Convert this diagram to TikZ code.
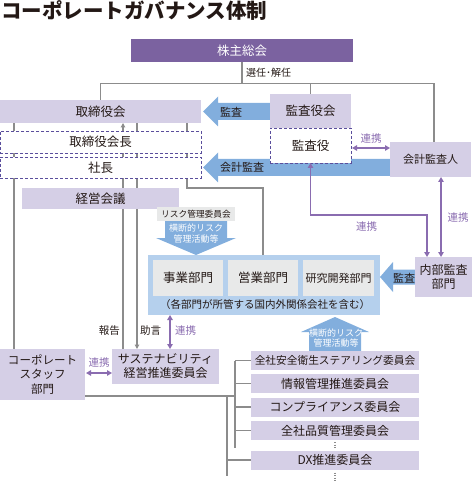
\documentclass[tikz,border=0pt]{standalone}
\usepackage{fontspec}
\setmainfont{Noto Sans CJK JP}
\usetikzlibrary{arrows.meta, positioning, calc, backgrounds}
\definecolor{murasaki}{RGB}{123, 98, 160}
\definecolor{usumura}{RGB}{213, 207, 230}
\definecolor{tensen}{RGB}{90, 78, 156}
\definecolor{aoya}{RGB}{130, 174, 221}
\definecolor{usuao}{RGB}{181, 208, 237}
\definecolor{haiiro}{RGB}{232, 233, 233}
\definecolor{sen}{RGB}{140, 140, 140}
\definecolor{renkei}{RGB}{138, 108, 176}
\definecolor{sumi}{RGB}{35, 24, 21}

\begin{document}
\begin{tikzpicture}[x=1pt, y=-1pt,
    box/.style={rectangle, fill=usumura, inner sep=0pt, outer sep=0pt, align=center, text=sumi, font=\fontsize{12.5}{14}\selectfont},
    dbox/.style={box, fill=white, draw=tensen, line width=0.9pt, dash pattern=on 3pt off 2pt},
    gbox/.style={box, fill=haiiro},
    iinkai/.style={box, minimum width=168pt, minimum height=19pt, font=\fontsize{12}{14}\selectfont},
    link/.style={draw=sen, line width=1.1pt},
    hokokuarrow/.style={link, -{Triangle[length=4.5pt, width=4.5pt]}},
    renkeiarrow/.style={draw=renkei, line width=1.2pt, {Triangle[length=5pt, width=5.5pt]}-{Triangle[length=5pt, width=5.5pt]}},
    fatarrow/.style={fill=aoya},
    lbl/.style={inner sep=1pt, text=sumi, font=\fontsize{10.5}{12}\selectfont},
    rlbl/.style={lbl, text=renkei},
    wlbl/.style={inner sep=0pt, align=center, text=white, font=\fontsize{9}{10.5}\selectfont}
]
\useasboundingbox (0,0) rectangle (472,486);

\node[anchor=west, inner sep=0pt, text=sumi, font=\fontsize{20.5}{24}\selectfont\bfseries] (title) at (1,11) {コーポレートガバナンス体制};

\node[box, fill=murasaki, text=white, minimum width=222pt, minimum height=23pt] (kabunushi) at (242,50.5) {株主総会};
\node[lbl, anchor=west, font=\fontsize{10}{12}\selectfont] (senin) at (245,73) {選任･解任};

\node[box, minimum width=201pt, minimum height=23pt] (torishimari) at (100.5,111.5) {取締役会};
\node[dbox, minimum width=201pt, minimum height=22pt, below=8pt of torishimari] (kaicho) {取締役会長};
\node[dbox, minimum width=201pt, minimum height=21pt, below=4pt of kaicho] (shacho) {社長};
\node[box, minimum width=157pt, minimum height=21pt] (keiei) at (100.5,198.5) {経営会議};

\node[box, minimum width=81pt, minimum height=34pt] (kansayakukai) at (310.5,111) {監査役会};
\node[dbox, minimum width=81pt, minimum height=35pt, below=0pt of kansayakukai] (kansayaku) {監査役};
\node[box, minimum width=81pt, minimum height=35pt, font=\fontsize{11}{13}\selectfont] (kaikei) at (430.5,159.5) {会計監査人};
\node[box, minimum width=57pt, minimum height=40pt, font=\fontsize{12}{14}\selectfont] (naibu) at (443.5,277) {内部監査\\部門};

\node[gbox, minimum width=78pt, minimum height=14pt, font=\fontsize{8.7}{10}\selectfont] (riskiin) at (196,214) {リスク管理委員会};

\node[box, fill=usuao, minimum width=232pt, minimum height=60pt] (bumon) at (264,285) {};
\node[gbox, minimum width=70pt, minimum height=36pt] (jigyo) at (188,278) {事業部門};
\node[gbox, minimum width=70pt, minimum height=36pt, right=5pt of jigyo] (eigyo) {営業部門};
\node[gbox, minimum width=71pt, minimum height=36pt, right=5pt of eigyo, font=\fontsize{11}{13}\selectfont] (kenkyu) {研究開発部門};
\node[lbl, font=\fontsize{10.5}{12}\selectfont] (kanren) at ($(bumon.south)+(1,-10)$) {（各部門が所管する国内外関係会社を含む）};

\node[box, minimum width=107pt, minimum height=35pt, font=\fontsize{12}{14}\selectfont] (sustain) at (165.5,366.5) {サステナビリティ\\経営推進委員会};
\node[box, minimum width=85pt, minimum height=51pt, font=\fontsize{11.5}{14.5}\selectfont] (corp) at (42.5,374.5) {コーポレート\\スタッフ\\部門};

\node[iinkai, font=\fontsize{10.7}{13}\selectfont] (anzen) at (335,360.5) {全社安全衛生ステアリング委員会};
\node[iinkai, below=4pt of anzen] (joho) {情報管理推進委員会};
\node[iinkai, below=4.5pt of joho] (compli) {コンプライアンス委員会};
\node[iinkai, below=4.5pt of compli] (hinshitsu) {全社品質管理委員会};
\node[iinkai, below=10.5pt of hinshitsu] (dx) {DX推進委員会};

\begin{scope}[on background layer]
\draw[link] (kabunushi.south) -- ++(0,21.5) coordinate (bunki);
\draw[link] (torishimari.north) |- (bunki) -| ($(kaikei.north)+(3.5,0)$);
\draw[link] (bunki -| kansayakukai.north) -- (kansayakukai.north);

\draw[link] ($(torishimari.south west)+(14,0)$) -- ($(corp.north west)+(14,0)$);
\coordinate (hokoku) at ($(sustain.north west)+(11,0)$);
\coordinate (jogen) at ($(sustain.north west)+(25,0)$);
\draw[hokokuarrow] (hokoku) -- (hokoku |- torishimari.south);
\draw[hokokuarrow] (jogen |- torishimari.south) -- (jogen);
\coordinate (shiji) at ($(bumon.north west)+(115,0)$);
\draw[link] ($(torishimari.south west)+(187,0)$) |- (keiei.north -| shiji) -- (shiji);

\coordinate (uchi) at ($(anzen.west)+(-16,0)$);
\coordinate (soto) at ($(dx.west)+(-24,0)$);
\draw[link] ($(corp.south east)+(0,-4)$) coordinate (corpout) -- (corpout -| uchi);
\draw[link] (uchi) -- ($(uchi)+(0,87)$);
\draw[link] (corpout -| soto) -- ($(soto)+(0,16)$);
\foreach \n in {anzen, joho, compli, hinshitsu}
  \draw[link] (\n.west) -- (\n.west -| uchi);
\draw[link] (dx.west) -- (soto);
\draw[link, dash pattern=on 1pt off 1.6pt] ($(hinshitsu.south)+(0,2)$) -- ($(dx.north)+(0,-2)$);
\draw[link, dash pattern=on 1pt off 1.6pt] ($(dx.south)+(0,3)$) -- ++(0,10);

\fill[fatarrow] ($(torishimari.east)+(2,0)$) -- ++(15,-15) -- ++(0,6.5) -- ($(kansayakukai.west |- torishimari.east)+(0,-8.5)$) -- ++(0,17) -- ($(torishimari.east)+(17,8.5)$) -- ++(0,6.5) -- cycle;
\fill[fatarrow] ($(shacho.east)+(2,0)$) -- ++(15,-15) -- ++(0,6.5) -- ($(kaikei.west |- shacho.east)+(0,-8.5)$) -- ++(0,17) -- ($(shacho.east)+(17,8.5)$) -- ++(0,6.5) -- cycle;
\fill[fatarrow] (bumon.east |- naibu.west) -- ++(13,-15) -- ++(0,7.5) -- ($(naibu.west)+(0,-7.5)$) -- ++(0,15) -- ($(bumon.east |- naibu.west)+(13,7.5)$) -- ++(0,7.5) -- cycle;
\fill[fatarrow] ($(riskiin.south)+(-31,0)$) -- ++(62,0) -- ++(0,17) -- ++(9,0) -- (riskiin.south |- bumon.north) -- ($(riskiin.south)+(-40,17)$) -- ++(9,0) -- cycle;
\fill[fatarrow] ($(anzen.north)+(-26,0)$) -- ++(0,-19) -- ++(-8,0) -- ($(anzen.north |- bumon.south)+(0,2)$) -- ($(anzen.north)+(34,-19)$) -- ++(-8,0) -- ++(0,19) -- cycle;
\end{scope}

\node[lbl, anchor=west, font=\fontsize{11}{13}\selectfont] (kansalbl) at ($(torishimari.east)+(18,0.5)$) {監査};
\node[lbl, anchor=west, font=\fontsize{11}{13}\selectfont] (kaikeilbl) at ($(shacho.east)+(18,0)$) {会計監査};
\node[lbl, font=\fontsize{11}{13}\selectfont] (naibulbl) at ($(naibu.west)+(-11,1)$) {監査};
\node[wlbl] (oudan1) at ($(riskiin.south)+(0,12.5)$) {横断的リスク\\管理活動等};
\node[wlbl] (oudan2) at ($(anzen.north)+(1,-13)$) {横断的リスク\\管理活動等};

\coordinate (r1) at ($(kansayaku.east)+(1,2.5)$);
\draw[renkeiarrow] (r1) -- (r1 -| kaikei.west) node[midway, above=3pt, rlbl] (renkei1) {連携};
\draw[renkeiarrow] (kansayaku.south) -- ++(0,52) -| ($(naibu.north west)+(12,0)$);
\node[rlbl] (renkei2) at ($(kansayaku.south)+(56,64)$) {連携};
\coordinate (r3) at ($(naibu.north west)+(26,0)$);
\draw[renkeiarrow] (r3 |- kaikei.south) -- (r3);
\node[rlbl] (renkei3) at ($(r3)+(17,-39)$) {連携};
\coordinate (r4) at ($(sustain.north west)+(58,0)$);
\draw[renkeiarrow] (r4 |- bumon.south) -- (r4);
\node[rlbl, anchor=west] (renkei4) at ($(r4)+(4,-18)$) {連携};
\coordinate (r5) at ($(corp.east)+(1,-1.5)$);
\draw[renkeiarrow] (r5) -- (r5 -| sustain.west) node[midway, above=4pt, rlbl] (renkei5) {連携};

\node[lbl, anchor=east] (hokokulbl) at ($(hokoku)+(-2,-18)$) {報告};
\node[lbl, anchor=west] (jogenlbl) at ($(jogen)+(2,-18)$) {助言};
\end{tikzpicture}
\end{document}
